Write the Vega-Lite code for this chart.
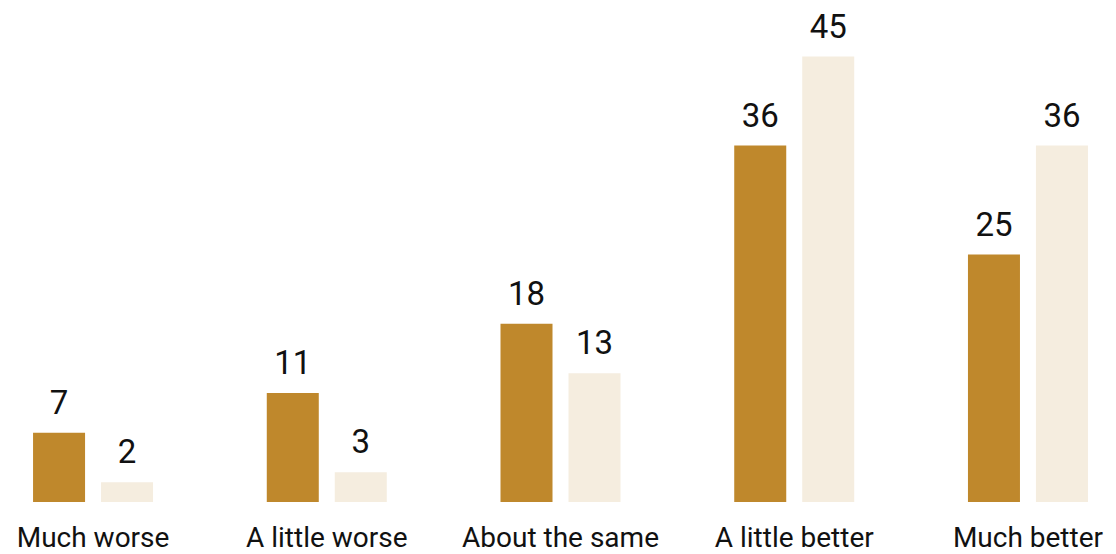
{
  "$schema": "https://vega.github.io/schema/vega-lite/v6.json",
  "width": 1111,
  "height": 495,
  "autosize": {"type": "none"},
  "padding": {"left": 5, "top": 7, "right": 0, "bottom": 52},
  "background": "white",
  "config": {"view": {"stroke": null}},
  "data": {"values": [
    {"category": "Much worse", "series": "A", "value": 7},
    {"category": "Much worse", "series": "B", "value": 2},
    {"category": "A little worse", "series": "A", "value": 11},
    {"category": "A little worse", "series": "B", "value": 3},
    {"category": "About the same", "series": "A", "value": 18},
    {"category": "About the same", "series": "B", "value": 13},
    {"category": "A little better", "series": "A", "value": 36},
    {"category": "A little better", "series": "B", "value": 45},
    {"category": "Much better", "series": "A", "value": 25},
    {"category": "Much better", "series": "B", "value": 36}
  ]},
  "encoding": {
    "x": {
      "field": "category", "type": "nominal",
      "sort": ["Much worse", "A little worse", "About the same", "A little better", "Much better"],
      "scale": {"paddingInner": 0.4866, "paddingOuter": 0.12},
      "axis": {"title": null, "ticks": false, "domain": false, "labelAngle": 0, "labelFontSize": 28, "labelFont": "Roboto", "labelColor": "#111", "labelPadding": 22, "labelFontWeight": "normal", "labelLimit": 0, "labelOverlap": false}
    },
    "xOffset": {"field": "series", "type": "nominal", "scale": {"paddingInner": 0.235}},
    "y": {"field": "value", "type": "quantitative", "scale": {"domain": [0, 50]}, "axis": null}
  },
  "layer": [
    {
      "mark": {"type": "bar"},
      "encoding": {
        "color": {"field": "series", "type": "nominal", "scale": {"domain": ["A", "B"], "range": ["#BF882C", "#F5EDDF"]}, "legend": null}
      }
    },
    {
      "mark": {"type": "text", "baseline": "alphabetic", "dy": -19, "fontSize": 33, "font": "Roboto", "fontWeight": "normal", "color": "#111"},
      "encoding": {"text": {"field": "value", "type": "quantitative"}}
    }
  ]
}
